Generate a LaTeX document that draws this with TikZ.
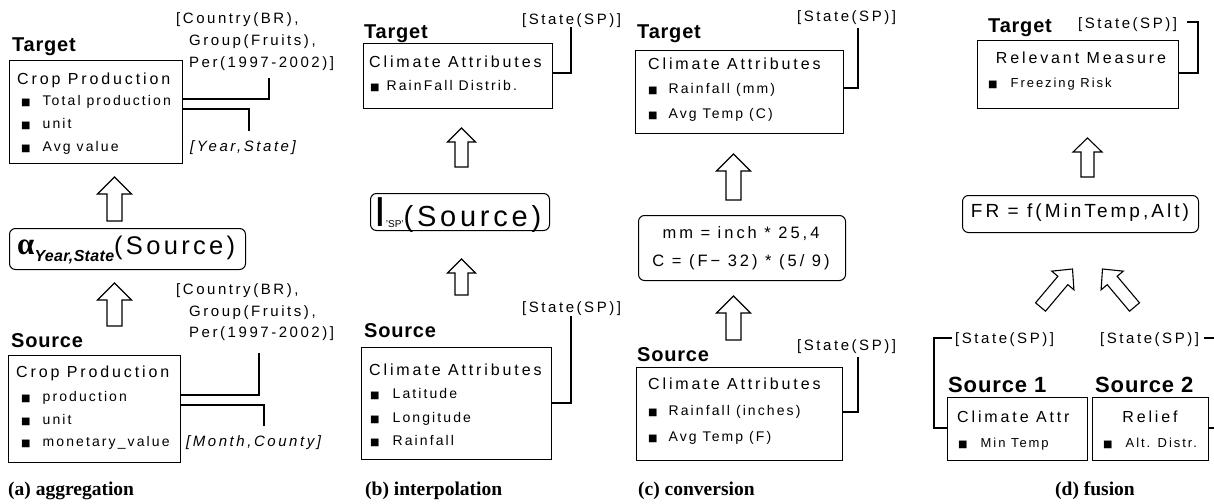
\documentclass[tikz,border=0pt]{standalone}
\usepackage{fontspec}
\setmainfont{Liberation Sans}
\usetikzlibrary{calc}
\newfontfamily\hdfam[LetterSpace=18]{Liberation Sans}
\newfontfamily\itfam[LetterSpace=15]{Liberation Sans}
\newfontfamily\lbfam[LetterSpace=17]{Liberation Sans}
\newfontfamily\bdfam[LetterSpace=4]{Liberation Sans}
\newfontfamily\srcfam[LetterSpace=13]{Liberation Sans}
\newfontfamily\subfam[LetterSpace=2]{Liberation Sans}
\newfontfamily\frfam[LetterSpace=16]{Liberation Sans}
\newfontfamily\cpfam{Liberation Serif}
\newfontfamily\djfam{DejaVu Sans}
\newcommand\fHD{\hdfam\fontsize{16}{19}\selectfont}
\newcommand\fIT{\itfam\fontsize{14}{17}\selectfont}
\newcommand\fITs{\itfam\fontsize{13}{16}\selectfont}
\newcommand\fLB{\lbfam\fontsize{15}{18}\selectfont}
\newcommand\fBD{\bdfam\bfseries\fontsize{20}{24}\selectfont}
\newcommand\fBDd{\bdfam\bfseries\fontsize{22}{26}\selectfont}
\newcommand\fCP{\cpfam\bfseries\fontsize{19.5}{23}\selectfont}
\newcommand\BUL{{\djfam\fontsize{10}{10}\selectfont ■}}
\tikzset{
  hd/.style={inner sep=0pt, anchor=base west, yshift=-5.7pt, font=\fHD},
  hdc/.style={inner sep=0pt, anchor=base, yshift=-5.7pt, font=\fHD},
  it/.style={inner sep=0pt, anchor=base west, yshift=-5pt, font=\fIT},
  its/.style={inner sep=0pt, anchor=base west, yshift=-4.7pt, font=\fITs},
  lb/.style={inner sep=0pt, anchor=base west, yshift=-5.4pt, font=\fLB},
  lbi/.style={lb, font=\fLB\itshape},
  bd/.style={inner sep=0pt, anchor=base west, font=\fBD},
  bdd/.style={inner sep=0pt, anchor=base west, font=\fBDd},
  cp/.style={inner sep=0pt, anchor=base west, font=\fCP},
  box/.style={draw, line width=1pt, inner sep=0pt, anchor=north west},
  rbox/.style={box, rounded corners=6pt},
  brk/.style={draw, line width=1.2pt},
  fat/.style n args={3}{draw, line width=1.1pt, fill=white, line join=miter,
    to path={let \p1=(\tikztostart), \p2=(\tikztotarget),
      \n1={atan2(\y2-\y1,\x2-\x1)},
      \n2={veclen(\x2-\x1,\y2-\y1)-#3},
      \n3={#1+#2} in
      (\p1) ++(\n1+90:#1) -- ++(\n1:\n2) -- ++(\n1+90:#2) -- (\p2)
      -- ($(\p2)+(\n1+180:#3)+(\n1-90:\n3)$) -- ++(\n1+90:#2)
      -- ++(\n1+180:\n2) -- cycle}}
}
\begin{document}
\begin{tikzpicture}[x=1pt,y=1pt]
\useasboundingbox (0,0) rectangle (1214,-503);
\clip (0,0) rectangle (1214,-503);

% ---------------- (a) aggregation ----------------
\node[bd] (tgA) at (12,-52) {Target};
\node[box,minimum width=173pt,minimum height=103pt] (tbA) at (9,-60) {};
\node[hd] (tbAh) at (17,-79) {Crop Production};
\node[it] (tbA1) at (21,-100) {\BUL\hspace{12pt}Total production};
\node[it] (tbA2) at (21,-123) {\BUL\hspace{12pt}unit};
\node[it] (tbA3) at (21,-146) {\BUL\hspace{12pt}Avg value};
\draw[brk] ($(tbA.north east)+(0,-39)$) -- ++(86,0) -- ++(0,21);
\draw[brk] ($(tbA.north east)+(0,-49)$) -- ++(66,0) -- ++(0,-22);
\node[lb] (lA1) at (176,-18) {[Country(BR),};
\node[lb] (lA2) at (189,-40) {Group(Fruits),};
\node[lb] (lA3) at (189,-62) {Per(1997-2002)]};
\node[lbi] (lA4) at (190,-146) {[Year,State]};

\node[rbox,minimum width=236pt,minimum height=41pt] (alA) at (9,-228) {};
\node[inner sep=0pt, anchor=base west] (alT) at (17,-254)
  {{\cpfam\bfseries\fontsize{31}{31}\selectfont α}\raisebox{-7pt}{\subfam\bfseries\itshape\fontsize{16}{16}\selectfont Year,State}{\srcfam\fontsize{25.5}{25.5}\selectfont (Source)}};
\draw[fat={7.5}{9.5}{17}] ($(alA.north)+(-13,7)$) to ($(tbA.south)+(18.5,-13)$);

\node[bd] (sgA) at (11,-347) {Source};
\node[box,minimum width=172pt,minimum height=107pt] (sbA) at (8,-355) {};
\node[hd] (sbAh) at (16,-372) {Crop Production};
\node[it] (sbA1) at (21,-396) {\BUL\hspace{12pt}production};
\node[it] (sbA2) at (21,-419) {\BUL\hspace{12pt}unit};
\node[it] (sbA3) at (21,-441) {\BUL\hspace{12pt}monetary\_value};
\draw[brk] ($(sbA.north east)+(0,-40)$) -- ++(78,0) -- ++(0,42);
\draw[brk] ($(sbA.north east)+(0,-50)$) -- ++(83,0) -- ++(0,-21);
\node[lb] (lA5) at (176,-289) {[Country(BR),};
\node[lb] (lA6) at (189,-311) {Group(Fruits),};
\node[lb] (lA7) at (189,-332) {Per(1997-2002)]};
\node[lbi] (lA8) at (186,-441) {[Month,County]};
\draw[fat={7.5}{9.5}{17}] ($(sbA.north)+(20,29)$) to ($(alA.south)+(-13,-13)$);
\node[cp] (capA) at (8,-495) {(a) aggregation};

% ---------------- (b) interpolation ----------------
\node[bd] (tgB) at (364,-38) {Target};
\node[lb] (lB1) at (522,-19) {[State(SP)]};
\node[box,minimum width=189pt,minimum height=65pt] (tbB) at (363,-43) {};
\node[hd] (tbBh) at (369,-62) {Climate Attributes};
\node[it] (tbB1) at (370,-85) {\BUL\hspace{7pt}RainFall Distrib.};
\draw[brk] ($(tbB.north east)+(0,-30)$) -- ++(18,0) -- ++(0,46);

\node[rbox,minimum width=179pt,minimum height=37pt] (iB) at (370,-193) {};
\node[inner sep=0pt, anchor=base west] (iT) at (374,-226)
  {{\fontsize{42}{42}\selectfont I}\raisebox{-1pt}{\fontsize{10}{10}\selectfont 'SP'}{\srcfam\fontsize{29}{29}\selectfont (Source)}};
\draw[fat={6.5}{7.5}{14}] ($(iB.north)+(1.5,26)$) to ($(tbB.south)+(3.5,-19)$);

\node[lb] (lB2) at (522,-307) {[State(SP)]};
\node[bd] (sgB) at (364,-337) {Source};
\node[box,minimum width=190pt,minimum height=112pt] (sbB) at (361,-347) {};
\node[hd] (sbBh) at (369,-370) {Climate Attributes};
\node[it] (sbB1) at (370,-393) {\BUL\hspace{13pt}Latitude};
\node[it] (sbB2) at (370,-417) {\BUL\hspace{13pt}Longitude};
\node[it] (sbB3) at (370,-440) {\BUL\hspace{13pt}Rainfall};
\draw[brk] ($(sbB.north east)+(0,-56)$) -- ++(19,0) -- ++(0,87);
\draw[fat={6.5}{7.5}{14}] ($(sbB.north)+(5,52)$) to ($(iB.south)+(1.5,-28)$);
\node[cp] (capB) at (365,-495) {(b) interpolation};

% ---------------- (c) conversion ----------------
\node[bd] (tgC) at (637,-38) {Target};
\node[lb] (lC1) at (797,-16) {[State(SP)]};
\node[box,minimum width=208pt,minimum height=83pt] (tbC) at (635,-50) {};
\node[hd] (tbCh) at (648,-64) {Climate Attributes};
\node[it] (tbC1) at (648,-88) {\BUL\hspace{11pt}Rainfall (mm)};
\node[it] (tbC2) at (648,-113) {\BUL\hspace{11pt}Avg Temp (C)};
\draw[brk] ($(tbC.north east)+(0,-38)$) -- ++(14,0) -- ++(0,60);

\node[rbox,minimum width=207pt,minimum height=65pt] (fC) at (638,-215) {};
\node[inner sep=0pt, align=center, font=\hdfam\fontsize{16.5}{28}\selectfont] (fCt) at (741,-248)
  {mm = inch * 25,4\\C = (F− 32) * (5/ 9)};
\draw[fat={7.5}{9.5}{17}] ($(fC.north)+(-8.5,15)$) to ($(tbC.south)+(-6,-20)$);

\node[lb] (lC2) at (797,-345) {[State(SP)]};
\node[bd] (sgC) at (637,-361) {Source};
\node[box,minimum width=206pt,minimum height=93pt] (sbC) at (636,-367) {};
\node[hd] (sbCh) at (648,-384) {Climate Attributes};
\node[it] (sbC1) at (648,-410) {\BUL\hspace{11pt}Rainfall (inches)};
\node[it] (sbC2) at (648,-436) {\BUL\hspace{11pt}Avg Temp (F)};
\draw[brk] ($(sbC.north east)+(0,-45)$) -- ++(15,0) -- ++(0,55);
\draw[fat={7.5}{9.5}{17}] ($(sbC.north)+(-6,27)$) to ($(fC.south)+(-8.5,-15)$);
\node[cp] (capC) at (638,-495) {(c) conversion};

% ---------------- (d) fusion ----------------
\node[bd] (tgD) at (988,-33) {Target};
\node[lb] (lD0) at (1078,-23) {[State(SP)]};
\node[box,minimum width=201pt,minimum height=68pt] (tbD) at (977,-40) {};
\node[hdc] (tbDh) at (1081,-58) {Relevant Measure};
\node[its] (tbD1) at (988,-83) {\BUL\hspace{13pt}Freezing Risk};
\draw[brk] ($(tbD.north east)+(0,-33)$) -- ++(19,0) -- ++(0,51) -- ++(-11,0);

\node[rbox,minimum width=236pt,minimum height=37pt] (frD) at (962,-195) {};
\node[inner sep=0pt, font=\frfam\fontsize{19}{19}\selectfont] (frT) at (1080,-213) {FR = f(MinTemp,Alt)};
\draw[fat={6.5}{8}{14}] ($(frD.north)+(7,18)$) to ($(tbD.south)+(9.5,-29)$);

\node[lb] (lD1) at (955,-338) {[State(SP)]};
\node[lb] (lD2) at (1100,-338) {[State(SP)]};
\node[bdd] (sgD1) at (948,-392) {Source 1};
\node[bdd] (sgD2) at (1095,-392) {Source 2};
\node[box,minimum width=140pt,minimum height=63pt] (s1D) at (947,-397) {};
\node[box,minimum width=116pt,minimum height=63pt] (s2D) at (1092,-397) {};
\node[hd] (s1Dh) at (957,-417) {Climate Attr};
\node[its] (s1D1) at (958,-443) {\BUL\hspace{13pt}Min Temp};
\node[hdc] (s2Dh) at (1150,-417) {Relief};
\node[its] (s2D1) at (1103,-443) {\BUL\hspace{13pt}Alt. Distr.};
\draw[brk] ($(s1D.north west)+(5,59)$) -- ++(-18,0) |- ($(s1D.north west)+(0,-31)$);
\draw[brk] ($(s2D.north east)+(-5,59)$) -- ++(15,0) |- ($(s2D.north east)+(0,-31)$);
\draw[fat={6.5}{8}{15}] ($(s1D.north)+(23,90)$) to ($(frD.south)+(-8,-36)$);
\draw[fat={6.5}{8}{15}] ($(s2D.north)+(-16,90)$) to ($(frD.south)+(22,-36)$);
\node[cp, anchor=base] (capD) at (1095,-495) {(d) fusion};
\end{tikzpicture}
\end{document}
